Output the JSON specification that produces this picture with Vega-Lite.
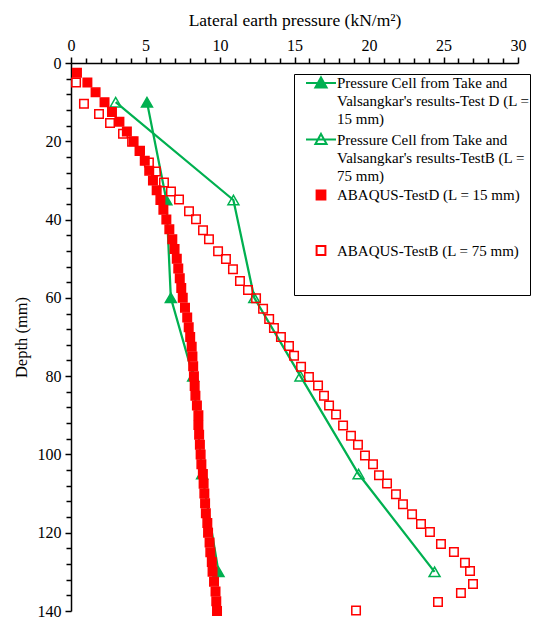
{
  "$schema": "https://vega.github.io/schema/vega-lite/v6.json",
  "width": 447,
  "height": 548,
  "padding": {"left": 13, "top": 11, "right": 0, "bottom": 5},
  "background": "white",
  "config": {
    "view": {"stroke": null},
    "style": {"guide-label": {"lineHeight": 18}},
    "axis": {
      "labelFont": "Liberation Serif", "labelFontSize": 16, "labelColor": "black",
      "titleFont": "Liberation Serif", "titleFontSize": 16, "titleColor": "black", "titleFontWeight": "normal",
      "domainColor": "black", "domainWidth": 1.5, "tickColor": "black", "tickWidth": 1.5,
      "grid": false, "labelOverlap": false, "labelFlush": false, "labelBound": false
    }
  },
  "datasets": {
    "cells": [
      {"series": "Pressure Cell from Take and Valsangkar's results-Test D (L = 15 mm)", "pressure": 5.1, "depth": 10},
      {"series": "Pressure Cell from Take and Valsangkar's results-Test D (L = 15 mm)", "pressure": 6.4, "depth": 35},
      {"series": "Pressure Cell from Take and Valsangkar's results-Test D (L = 15 mm)", "pressure": 6.7, "depth": 60},
      {"series": "Pressure Cell from Take and Valsangkar's results-Test D (L = 15 mm)", "pressure": 8.2, "depth": 80},
      {"series": "Pressure Cell from Take and Valsangkar's results-Test D (L = 15 mm)", "pressure": 8.8, "depth": 105},
      {"series": "Pressure Cell from Take and Valsangkar's results-Test D (L = 15 mm)", "pressure": 9.9, "depth": 130},
      {"series": "Pressure Cell from Take and Valsangkar's results-TestB (L = 75 mm)", "pressure": 3.0, "depth": 10},
      {"series": "Pressure Cell from Take and Valsangkar's results-TestB (L = 75 mm)", "pressure": 10.9, "depth": 35},
      {"series": "Pressure Cell from Take and Valsangkar's results-TestB (L = 75 mm)", "pressure": 12.3, "depth": 60},
      {"series": "Pressure Cell from Take and Valsangkar's results-TestB (L = 75 mm)", "pressure": 15.4, "depth": 80},
      {"series": "Pressure Cell from Take and Valsangkar's results-TestB (L = 75 mm)", "pressure": 19.3, "depth": 105},
      {"series": "Pressure Cell from Take and Valsangkar's results-TestB (L = 75 mm)", "pressure": 24.4, "depth": 130}
    ],
    "abaqus": [
      {"series": "ABAQUS-TestD (L = 15 mm)", "depth": 2.5, "pressure": 0.4},
      {"series": "ABAQUS-TestD (L = 15 mm)", "depth": 5, "pressure": 1.1},
      {"series": "ABAQUS-TestD (L = 15 mm)", "depth": 7.5, "pressure": 1.65},
      {"series": "ABAQUS-TestD (L = 15 mm)", "depth": 10, "pressure": 2.25},
      {"series": "ABAQUS-TestD (L = 15 mm)", "depth": 12.5, "pressure": 2.75},
      {"series": "ABAQUS-TestD (L = 15 mm)", "depth": 15, "pressure": 3.25},
      {"series": "ABAQUS-TestD (L = 15 mm)", "depth": 17.5, "pressure": 3.75},
      {"series": "ABAQUS-TestD (L = 15 mm)", "depth": 20, "pressure": 4.2},
      {"series": "ABAQUS-TestD (L = 15 mm)", "depth": 22.5, "pressure": 4.6},
      {"series": "ABAQUS-TestD (L = 15 mm)", "depth": 25, "pressure": 4.95},
      {"series": "ABAQUS-TestD (L = 15 mm)", "depth": 27.5, "pressure": 5.25},
      {"series": "ABAQUS-TestD (L = 15 mm)", "depth": 30, "pressure": 5.5},
      {"series": "ABAQUS-TestD (L = 15 mm)", "depth": 32.5, "pressure": 5.75},
      {"series": "ABAQUS-TestD (L = 15 mm)", "depth": 35, "pressure": 6.0},
      {"series": "ABAQUS-TestD (L = 15 mm)", "depth": 37.5, "pressure": 6.2},
      {"series": "ABAQUS-TestD (L = 15 mm)", "depth": 40, "pressure": 6.4},
      {"series": "ABAQUS-TestD (L = 15 mm)", "depth": 42.5, "pressure": 6.6},
      {"series": "ABAQUS-TestD (L = 15 mm)", "depth": 45, "pressure": 6.8},
      {"series": "ABAQUS-TestD (L = 15 mm)", "depth": 47.5, "pressure": 6.95},
      {"series": "ABAQUS-TestD (L = 15 mm)", "depth": 50, "pressure": 7.1},
      {"series": "ABAQUS-TestD (L = 15 mm)", "depth": 52.5, "pressure": 7.2},
      {"series": "ABAQUS-TestD (L = 15 mm)", "depth": 55, "pressure": 7.3},
      {"series": "ABAQUS-TestD (L = 15 mm)", "depth": 57.5, "pressure": 7.4},
      {"series": "ABAQUS-TestD (L = 15 mm)", "depth": 60, "pressure": 7.5},
      {"series": "ABAQUS-TestD (L = 15 mm)", "depth": 62.5, "pressure": 7.65},
      {"series": "ABAQUS-TestD (L = 15 mm)", "depth": 65, "pressure": 7.8},
      {"series": "ABAQUS-TestD (L = 15 mm)", "depth": 67.5, "pressure": 7.9},
      {"series": "ABAQUS-TestD (L = 15 mm)", "depth": 70, "pressure": 8.0},
      {"series": "ABAQUS-TestD (L = 15 mm)", "depth": 72.5, "pressure": 8.1},
      {"series": "ABAQUS-TestD (L = 15 mm)", "depth": 75, "pressure": 8.15},
      {"series": "ABAQUS-TestD (L = 15 mm)", "depth": 77.5, "pressure": 8.2},
      {"series": "ABAQUS-TestD (L = 15 mm)", "depth": 80, "pressure": 8.25},
      {"series": "ABAQUS-TestD (L = 15 mm)", "depth": 82.5, "pressure": 8.3},
      {"series": "ABAQUS-TestD (L = 15 mm)", "depth": 85, "pressure": 8.35},
      {"series": "ABAQUS-TestD (L = 15 mm)", "depth": 87.5, "pressure": 8.45},
      {"series": "ABAQUS-TestD (L = 15 mm)", "depth": 90, "pressure": 8.55},
      {"series": "ABAQUS-TestD (L = 15 mm)", "depth": 92.5, "pressure": 8.55},
      {"series": "ABAQUS-TestD (L = 15 mm)", "depth": 95, "pressure": 8.6},
      {"series": "ABAQUS-TestD (L = 15 mm)", "depth": 97.5, "pressure": 8.65},
      {"series": "ABAQUS-TestD (L = 15 mm)", "depth": 100, "pressure": 8.7},
      {"series": "ABAQUS-TestD (L = 15 mm)", "depth": 102.5, "pressure": 8.75},
      {"series": "ABAQUS-TestD (L = 15 mm)", "depth": 105, "pressure": 8.85},
      {"series": "ABAQUS-TestD (L = 15 mm)", "depth": 107.5, "pressure": 8.9},
      {"series": "ABAQUS-TestD (L = 15 mm)", "depth": 110, "pressure": 8.95},
      {"series": "ABAQUS-TestD (L = 15 mm)", "depth": 112.5, "pressure": 9.0},
      {"series": "ABAQUS-TestD (L = 15 mm)", "depth": 115, "pressure": 9.05},
      {"series": "ABAQUS-TestD (L = 15 mm)", "depth": 117.5, "pressure": 9.15},
      {"series": "ABAQUS-TestD (L = 15 mm)", "depth": 120, "pressure": 9.2},
      {"series": "ABAQUS-TestD (L = 15 mm)", "depth": 122.5, "pressure": 9.3},
      {"series": "ABAQUS-TestD (L = 15 mm)", "depth": 125, "pressure": 9.35},
      {"series": "ABAQUS-TestD (L = 15 mm)", "depth": 127.5, "pressure": 9.45},
      {"series": "ABAQUS-TestD (L = 15 mm)", "depth": 130, "pressure": 9.5},
      {"series": "ABAQUS-TestD (L = 15 mm)", "depth": 132.5, "pressure": 9.6},
      {"series": "ABAQUS-TestD (L = 15 mm)", "depth": 135, "pressure": 9.7},
      {"series": "ABAQUS-TestD (L = 15 mm)", "depth": 137.5, "pressure": 9.75},
      {"series": "ABAQUS-TestD (L = 15 mm)", "depth": 140, "pressure": 9.8},
      {"series": "ABAQUS-TestB (L = 75 mm)", "depth": 5, "pressure": 0.34},
      {"series": "ABAQUS-TestB (L = 75 mm)", "depth": 10.4, "pressure": 0.87},
      {"series": "ABAQUS-TestB (L = 75 mm)", "depth": 13, "pressure": 1.88},
      {"series": "ABAQUS-TestB (L = 75 mm)", "depth": 15.3, "pressure": 2.62},
      {"series": "ABAQUS-TestB (L = 75 mm)", "depth": 18.1, "pressure": 3.49},
      {"series": "ABAQUS-TestB (L = 75 mm)", "depth": 20.1, "pressure": 4.1},
      {"series": "ABAQUS-TestB (L = 75 mm)", "depth": 22.4, "pressure": 4.63},
      {"series": "ABAQUS-TestB (L = 75 mm)", "depth": 25.4, "pressure": 5.23},
      {"series": "ABAQUS-TestB (L = 75 mm)", "depth": 27.7, "pressure": 5.7},
      {"series": "ABAQUS-TestB (L = 75 mm)", "depth": 30.5, "pressure": 6.24},
      {"series": "ABAQUS-TestB (L = 75 mm)", "depth": 32.8, "pressure": 6.71},
      {"series": "ABAQUS-TestB (L = 75 mm)", "depth": 34.9, "pressure": 7.25},
      {"series": "ABAQUS-TestB (L = 75 mm)", "depth": 37.9, "pressure": 7.92},
      {"series": "ABAQUS-TestB (L = 75 mm)", "depth": 39.9, "pressure": 8.39},
      {"series": "ABAQUS-TestB (L = 75 mm)", "depth": 42.7, "pressure": 8.86},
      {"series": "ABAQUS-TestB (L = 75 mm)", "depth": 45.0, "pressure": 9.26},
      {"series": "ABAQUS-TestB (L = 75 mm)", "depth": 48.1, "pressure": 9.87},
      {"series": "ABAQUS-TestB (L = 75 mm)", "depth": 50.1, "pressure": 10.4},
      {"series": "ABAQUS-TestB (L = 75 mm)", "depth": 52.7, "pressure": 10.87},
      {"series": "ABAQUS-TestB (L = 75 mm)", "depth": 55.7, "pressure": 11.34},
      {"series": "ABAQUS-TestB (L = 75 mm)", "depth": 58.0, "pressure": 11.88},
      {"series": "ABAQUS-TestB (L = 75 mm)", "depth": 60.1, "pressure": 12.42},
      {"series": "ABAQUS-TestB (L = 75 mm)", "depth": 62.8, "pressure": 12.89},
      {"series": "ABAQUS-TestB (L = 75 mm)", "depth": 65.4, "pressure": 13.3},
      {"series": "ABAQUS-TestB (L = 75 mm)", "depth": 67.7, "pressure": 13.62},
      {"series": "ABAQUS-TestB (L = 75 mm)", "depth": 70.0, "pressure": 14.09},
      {"series": "ABAQUS-TestB (L = 75 mm)", "depth": 72.3, "pressure": 14.63},
      {"series": "ABAQUS-TestB (L = 75 mm)", "depth": 74.8, "pressure": 14.97},
      {"series": "ABAQUS-TestB (L = 75 mm)", "depth": 77.6, "pressure": 15.44},
      {"series": "ABAQUS-TestB (L = 75 mm)", "depth": 80.2, "pressure": 15.97},
      {"series": "ABAQUS-TestB (L = 75 mm)", "depth": 82.4, "pressure": 16.58},
      {"series": "ABAQUS-TestB (L = 75 mm)", "depth": 85.0, "pressure": 16.98},
      {"series": "ABAQUS-TestB (L = 75 mm)", "depth": 87.5, "pressure": 17.32},
      {"series": "ABAQUS-TestB (L = 75 mm)", "depth": 89.8, "pressure": 17.79},
      {"series": "ABAQUS-TestB (L = 75 mm)", "depth": 92.6, "pressure": 18.26},
      {"series": "ABAQUS-TestB (L = 75 mm)", "depth": 95.2, "pressure": 18.79},
      {"series": "ABAQUS-TestB (L = 75 mm)", "depth": 97.5, "pressure": 19.26},
      {"series": "ABAQUS-TestB (L = 75 mm)", "depth": 100.3, "pressure": 19.73},
      {"series": "ABAQUS-TestB (L = 75 mm)", "depth": 102.5, "pressure": 20.27},
      {"series": "ABAQUS-TestB (L = 75 mm)", "depth": 105.3, "pressure": 20.67},
      {"series": "ABAQUS-TestB (L = 75 mm)", "depth": 107.4, "pressure": 21.21},
      {"series": "ABAQUS-TestB (L = 75 mm)", "depth": 110.2, "pressure": 21.81},
      {"series": "ABAQUS-TestB (L = 75 mm)", "depth": 112.7, "pressure": 22.28},
      {"series": "ABAQUS-TestB (L = 75 mm)", "depth": 115.3, "pressure": 22.89},
      {"series": "ABAQUS-TestB (L = 75 mm)", "depth": 117.8, "pressure": 23.49},
      {"series": "ABAQUS-TestB (L = 75 mm)", "depth": 119.8, "pressure": 24.09},
      {"series": "ABAQUS-TestB (L = 75 mm)", "depth": 122.9, "pressure": 24.83},
      {"series": "ABAQUS-TestB (L = 75 mm)", "depth": 124.9, "pressure": 25.7},
      {"series": "ABAQUS-TestB (L = 75 mm)", "depth": 127.7, "pressure": 26.44},
      {"series": "ABAQUS-TestB (L = 75 mm)", "depth": 129.8, "pressure": 26.78},
      {"series": "ABAQUS-TestB (L = 75 mm)", "depth": 133.1, "pressure": 26.98},
      {"series": "ABAQUS-TestB (L = 75 mm)", "depth": 135.4, "pressure": 26.17},
      {"series": "ABAQUS-TestB (L = 75 mm)", "depth": 137.7, "pressure": 24.63},
      {"series": "ABAQUS-TestB (L = 75 mm)", "depth": 139.9, "pressure": 19.13}
    ]
  },
  "encoding": {
    "x": {
      "field": "pressure", "type": "quantitative",
      "scale": {"domain": [0, 30], "nice": false, "zero": false},
      "axis": {
        "orient": "top", "title": "Lateral earth pressure (kN/m²)",
        "labelFont": "Liberation Serif", "labelFontSize": 16, "titleFont": "Liberation Serif", "titleFontSize": 17.5,
        "values": [0,1,2,3,4,5,6,7,8,9,10,11,12,13,14,15,16,17,18,19,20,21,22,23,24,25,26,27,28,29,30],
        "labelExpr": "datum.value % 5 == 0 ? datum.label : ''",
        "tickSize": {"condition": {"test": "datum.value % 5 == 0", "value": 6}, "value": 5},
        "labelPadding": 4, "titlePadding": 8
      }
    },
    "y": {
      "field": "depth", "type": "quantitative",
      "scale": {"domain": [0, 140], "nice": false, "zero": false, "reverse": true},
      "axis": {
        "orient": "left", "title": "Depth (mm)",
        "labelFont": "Liberation Serif", "labelFontSize": 16, "titleFont": "Liberation Serif", "titleFontSize": 16.5,
        "values": [0,4,8,12,16,20,24,28,32,36,40,44,48,52,56,60,64,68,72,76,80,84,88,92,96,100,104,108,112,116,120,124,128,132,136,140],
        "labelExpr": "datum.value % 20 == 0 ? datum.label : ''",
        "tickSize": {"condition": {"test": "datum.value % 20 == 0", "value": 6}, "value": 5},
        "labelPadding": 4, "titlePadding": 8
      }
    }
  },
  "layer": [
    {
      "data": {"name": "cells"},
      "mark": {"type": "line", "color": "#00B050", "strokeWidth": 2.25},
      "encoding": {
        "detail": {"field": "series"},
        "order": {"field": "depth", "type": "quantitative"}
      }
    },
    {
      "data": {"name": "cells"},
      "mark": {"type": "point", "filled": true, "strokeWidth": 1.5, "opacity": 1},
      "encoding": {
        "shape": {"value": "triangle-up"},
        "size": {"value": 120},
        "fill": {"condition": {"test": "indexof(datum.series, 'Test D') >= 0", "value": "#00B050"}, "value": "transparent"},
        "stroke": {"value": "#00B050"}
      }
    },
    {
      "data": {"name": "abaqus"},
      "mark": {"type": "point", "filled": true, "strokeWidth": 1.5, "opacity": 1},
      "encoding": {
        "shape": {"value": "square"},
        "size": {"value": 72},
        "fill": {"condition": {"test": "indexof(datum.series, 'TestD') >= 0", "value": "#FF0000"}, "value": "transparent"},
        "stroke": {"value": "#FF0000"}
      }
    },
    {
      "data": {"name": "cells"},
      "transform": [{"filter": "false"}],
      "mark": {"type": "point", "filled": true, "opacity": 1},
      "encoding": {
        "shape": {
          "field": "series", "type": "nominal",
          "scale": {
            "domain": ["Pressure Cell from Take and Valsangkar's results-Test D (L = 15 mm)", "Pressure Cell from Take and Valsangkar's results-TestB (L = 75 mm)", "ABAQUS-TestD (L = 15 mm)", "ABAQUS-TestB (L = 75 mm)"],
            "range": ["M-1.875,0H1.875M0,-0.7L0.7,0.55H-0.7Z", "M-1.875,0H1.875M0,-0.7L0.7,0.55H-0.7Z", "M-0.55,-0.55H0.55V0.55H-0.55Z", "M-0.55,-0.55H0.55V0.55H-0.55Z"]
          },
          "legend": {
            "title": null, "orient": "none", "legendX": 223, "legendY": 11,
            "strokeColor": "black", "fillColor": "white", "padding": 0, "cornerRadius": 0,
            "labelFont": "Liberation Serif", "labelFontSize": 15, "labelColor": "black", "labelLimit": 400, "labelOffset": 7,
            "symbolSize": 256, "symbolOffset": 18, "symbolStrokeWidth": 2, "rowPadding": 2.5,
            "labelExpr": "indexof(datum.label, 'Test D (') >= 0 ? ['Pressure Cell from Take and', \"Valsangkar's results-Test D (L =\", '15 mm)'] : indexof(datum.label, 'Pressure') >= 0 ? ['Pressure Cell from Take and', \"Valsangkar's results-TestB (L =\", '75 mm)'] : indexof(datum.label, 'TestB') >= 0 ? [datum.label + '\u00a0\u00a0\u00a0\u00a0\u00a0\u00a0\u00a0\u00a0', ' ', ' '] : [datum.label, ' ', ' ']"
          }
        },
        "fill": {
          "field": "series", "type": "nominal",
          "scale": {
            "domain": ["Pressure Cell from Take and Valsangkar's results-Test D (L = 15 mm)", "Pressure Cell from Take and Valsangkar's results-TestB (L = 75 mm)", "ABAQUS-TestD (L = 15 mm)", "ABAQUS-TestB (L = 75 mm)"],
            "range": ["#00B050", "white", "#FF0000", "white"]
          }
        },
        "stroke": {
          "field": "series", "type": "nominal",
          "scale": {
            "domain": ["Pressure Cell from Take and Valsangkar's results-Test D (L = 15 mm)", "Pressure Cell from Take and Valsangkar's results-TestB (L = 75 mm)", "ABAQUS-TestD (L = 15 mm)", "ABAQUS-TestB (L = 75 mm)"],
            "range": ["#00B050", "#00B050", "#FF0000", "#FF0000"]
          }
        }
      }
    }
  ]
}
